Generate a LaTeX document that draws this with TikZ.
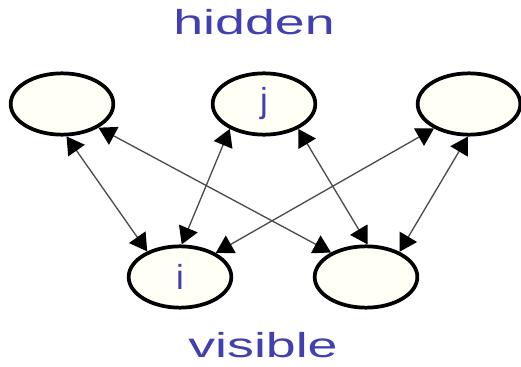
\documentclass[tikz,border=0pt]{standalone}
\usepackage{fontspec}
\setmainfont{Liberation Sans}
\usetikzlibrary{shapes.geometric,arrows.meta}
\definecolor{labelblue}{RGB}{64,64,176}
\definecolor{unitfill}{RGB}{255,255,246}
\begin{document}
\begin{tikzpicture}[x=0.75pt,y=-0.75pt,
  unit/.style={ellipse,draw,line width=2.8pt,fill=unitfill,minimum width=77pt,minimum height=46pt,inner sep=0pt,text=labelblue,font=\fontsize{26}{30}\selectfont},
  layer/.style={text=labelblue,font=\fontsize{26}{30}\selectfont,xscale=1.55,anchor=base,inner sep=0pt},
  link/.style={{Triangle[length=13pt,width=15pt,color=black]}-{Triangle[length=13pt,width=15pt,color=black]},line width=1pt,draw=black!70}]
\useasboundingbox (0,0) rectangle (521,367);
\node[unit] (h1) at (62,104) {};
\node[unit] (h2) at (264,104) {j};
\node[unit] (h3) at (469,104) {};
\node[unit] (v1) at (180,277) {i};
\node[unit] (v2) at (366,277) {};
\node[layer] (hid) at (254,35) {hidden};
\node[layer] (vis) at (263,357) {visible};
%\draw[help lines] (0,0) grid (521,367);
\draw[link] (h1.278) -- (v1.142);
\draw[link] (h1.327) -- (v2.145);
\draw[link] (h2.216) -- (v1.87);
\draw[link] (h2.324) -- (v2.87);
\draw[link] (h3.215) -- (v1.34);
\draw[link] (h3.268) -- (v2.37);
\end{tikzpicture}
\end{document}
